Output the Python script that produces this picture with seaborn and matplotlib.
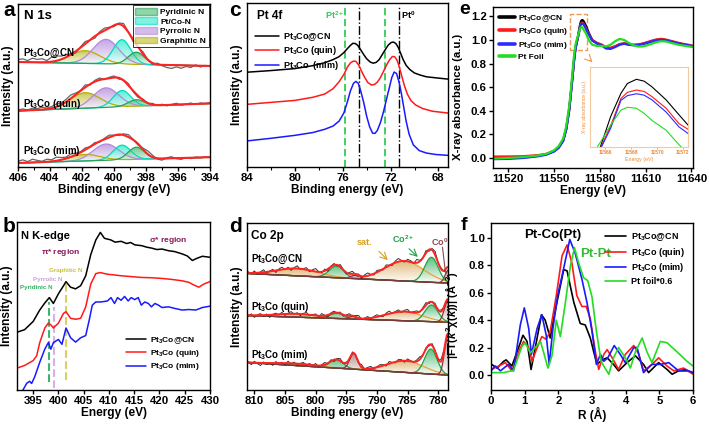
import numpy as np
import pandas as pd
import matplotlib
matplotlib.use("Agg")
import matplotlib.pyplot as plt
import seaborn as sns
from matplotlib.colors import LinearSegmentedColormap
from matplotlib.patches import Patch, Rectangle
from matplotlib.ticker import MultipleLocator

# ======================= DATA =======================
# ---- (a) N 1s XPS ----
a_samples = ["Pt$_3$Co@CN", "Pt$_3$Co (quin)", "Pt$_3$Co (mim)"]
a_components = ["Pyridinic N", "Pt/Co-N", "Pyrrolic N", "Graphitic N"]
a_centers = [398.6, 399.5, 400.5, 401.8]
a_fwhm = [1.2, 1.3, 1.9, 2.2]
a_heights_cn = [7.5, 15.0, 15.0, 7.8]
a_heights_quin = [4.0, 10.0, 12.0, 9.5]
a_heights_mim = [7.5, 9.0, 10.0, 4.0]
a_base_406 = [64.4, 34.5, 2.5]
a_base_394 = [62.0, 39.0, 6.0]
a_label_y = [70.0, 38.7, 9.8]
a_res_cn = [1.5, 2.0, 1.0, 2.5, 1.8, 2.2, 1.0, 2.8, 3.0, 2.0,
            1.5, 0.5, -1.0, 0.5, 1.5, 0.0, -1.2, 0.8, 1.5, 0.5,
            -0.8, 0.6, 1.8, 0.2, -1.5, -0.5, 1.2, 0.0, -1.0, 0.8,
            -0.5, -1.5, -2.0, -1.0, -1.8, -0.6, -1.2, 0.5, -0.8, 0.3,
            -0.5]
a_res_quin = [0.5, 1.0, 0.3, 1.2, 0.8, 1.5, 0.6, 1.0, 1.8, 0.9,
              1.6, 2.2, 1.0, 0.2, 1.5, -0.5, 0.8, 1.2, -0.3, 0.6,
              1.0, -0.8, 0.4, 1.1, -0.6, -1.0, 0.5, -0.4, 0.8, -0.2,
              0.6, -0.5, 0.3, 0.9, -0.4, 0.2, 0.7, -0.3, 0.5, 0.1,
              0.4]
a_res_mim = [1.0, 1.8, 0.6, 2.0, 1.2, 0.5, 1.6, 1.0, 2.2, 1.4,
             0.8, 1.8, 1.0, 0.5, 1.2, 0.2, 0.9, -0.5, 0.6, 1.4,
             0.3, -0.6, 0.8, 1.5, 0.2, -0.8, 0.6, 2.0, 1.2, -0.4,
             -1.0, 0.5, 1.0, -0.3, -0.8, 0.2, -0.5, 0.4, -0.2, 0.3,
             -0.1]

# ---- (b) N K-edge NEXAFS (energy eV, intensity) ----
b_cn = [(391.8, 34.4), (393.3, 35.9), (395.0, 40.8), (396.3, 47.6), (397.3, 51.8),
        (398.2, 55.0), (399.0, 51.5), (400.0, 57.3), (401.0, 62.0), (401.5, 64.5),
        (402.4, 61.2), (403.4, 60.2), (404.4, 62.1), (405.4, 68.0), (406.4, 80.6),
        (407.4, 89.3), (408.3, 93.8), (409.1, 90.3), (410.4, 89.3), (411.2, 88.0),
        (412.4, 88.5), (413.5, 87.2), (414.3, 87.8), (415.1, 86.4), (416.5, 85.9),
        (417.5, 85.0), (418.4, 84.5), (419.5, 83.6), (420.5, 83.9), (421.8, 82.9),
        (423.0, 82.4), (424.5, 81.0), (425.5, 79.8), (426.5, 77.1), (427.5, 78.5),
        (428.5, 79.6), (430.0, 79.0)]
b_quin = [(391.8, 13.0), (393.3, 14.6), (395.0, 17.5), (395.7, 20.4), (396.3, 28.2),
          (397.3, 36.9), (398.0, 39.8), (398.5, 38.8), (399.0, 36.9), (400.0, 39.8),
          (401.0, 45.6), (401.5, 46.6), (402.4, 42.7), (403.4, 42.1), (404.4, 42.7),
          (405.4, 49.5), (406.4, 63.1), (407.4, 69.3), (408.3, 69.9), (409.7, 68.9),
          (411.0, 68.5), (412.4, 68.0), (414.0, 67.6), (416.4, 67.0), (418.5, 66.8),
          (420.5, 66.4), (422.5, 65.8), (424.5, 65.0), (425.8, 64.1), (426.8, 62.5),
          (427.8, 61.2), (428.8, 63.1), (430.0, 64.5)]
b_mim = [(392.8, -1.0), (393.7, 3.9), (394.3, 5.2), (394.7, 3.9), (395.3, 7.8),
         (396.3, 16.5), (397.3, 24.3), (398.0, 28.2), (398.5, 24.3), (399.0, 28.2),
         (400.0, 30.1), (400.7, 27.2), (401.5, 36.9), (402.4, 31.1), (403.4, 28.5),
         (404.4, 31.1), (405.4, 32.4), (406.1, 41.7), (406.7, 50.5), (407.4, 52.4),
         (408.4, 52.4), (409.7, 53.0), (410.4, 55.0), (411.1, 51.5), (411.7, 55.0),
         (412.4, 53.4), (413.1, 55.7), (413.8, 53.0), (414.4, 55.0), (415.1, 53.8),
         (415.8, 55.0), (416.4, 50.5), (417.1, 52.4), (417.8, 51.5), (418.4, 49.5),
         (419.1, 51.5), (419.8, 50.5), (420.5, 49.1), (421.8, 49.5), (423.1, 48.5),
         (424.5, 47.6), (425.8, 47.9), (427.2, 47.6), (428.5, 49.1), (430.0, 49.9)]
b_marks = ["Pyridinic N", "Pyrrolic N", "Graphitic N"]
b_mark_e = [398.2, 399.2, 401.5]
b_mark_top = [52.4, 49.5, 63.0]
b_mark_bottom = [4.9, 1.0, 5.8]

# ---- (c) Pt 4f XPS (binding energy eV, intensity) ----
c_cn = [(84.0, 57.8), (82.0, 58.8), (80.0, 60.0), (78.5, 61.8), (77.5, 63.6), (76.8, 65.5),
        (76.3, 67.3), (75.9, 69.8), (75.6, 72.3), (75.35, 74.2), (75.15, 75.4), (74.95, 75.3),
        (74.75, 74.2), (74.5, 71.5), (74.25, 68.6), (74.0, 66.0), (73.7, 64.0), (73.45, 63.3),
        (73.2, 63.8), (72.95, 65.5), (72.7, 68.5), (72.45, 71.5), (72.2, 74.3), (71.95, 75.9),
        (71.75, 76.2), (71.55, 75.2), (71.35, 72.8), (71.15, 69.2), (70.95, 65.5), (70.7, 62.0),
        (70.4, 59.5), (70.0, 57.3), (69.5, 56.0), (69.0, 55.0), (68.0, 54.2), (67.2, 53.6)]
c_quin = [(84.0, 38.2), (82.0, 39.4), (80.0, 40.6), (78.5, 42.5), (77.5, 44.5), (76.8, 47.8),
          (76.3, 52.0), (75.9, 56.5), (75.6, 61.0), (75.35, 63.5), (75.1, 64.6), (74.9, 64.4),
          (74.65, 62.0), (74.4, 58.0), (74.15, 54.5), (73.9, 51.5), (73.6, 50.0), (73.35, 50.3),
          (73.1, 51.8), (72.85, 54.5), (72.6, 58.2), (72.35, 62.0), (72.1, 65.2), (71.85, 67.4),
          (71.65, 67.2), (71.45, 65.0), (71.25, 60.5), (71.05, 55.0), (70.85, 49.8), (70.6, 44.5),
          (70.3, 40.5), (69.9, 37.8), (69.3, 35.6), (68.5, 34.0), (67.2, 32.9)]
c_mim = [(84.0, 15.9), (82.0, 17.5), (80.0, 19.3), (78.5, 21.0), (77.5, 23.0), (76.8, 25.0),
         (76.3, 28.0), (75.9, 33.0), (75.6, 40.0), (75.35, 46.5), (75.1, 51.0), (74.9, 52.2),
         (74.7, 51.0), (74.5, 46.5), (74.25, 39.5), (74.0, 31.0), (73.75, 24.5), (73.5, 20.6),
         (73.3, 20.5), (73.1, 22.4), (72.85, 27.0), (72.6, 33.5), (72.35, 41.0), (72.1, 48.5),
         (71.9, 54.5), (71.7, 57.9), (71.5, 57.0), (71.3, 52.0), (71.1, 45.0), (70.9, 36.5),
         (70.7, 28.0), (70.45, 20.0), (70.1, 13.5), (69.6, 10.0), (69.0, 8.5), (68.2, 7.6),
         (67.2, 7.1)]
c_pt2_lines = [75.78, 72.5]
c_pt0_lines = [74.6, 71.33]

# ---- (d) Co 2p XPS ----
d_kinds = ["sat", "Co2+", "Co0", "sat", "Co2+", "Co0"]
d_centers_cn = [803.0, 796.6, 793.6, 785.5, 781.1, 778.3]
d_centers_quin = [803.0, 796.5, 794.0, 785.5, 781.1, 778.4]
d_centers_mim = [803.0, 796.6, 793.8, 785.3, 781.2, 778.4]
d_heights_cn = [4.4, 7.0, 2.0, 12.0, 15.0, 8.0]
d_heights_quin = [2.0, 3.2, 1.6, 5.5, 10.0, 13.0]
d_heights_mim = [1.2, 5.0, 9.3, 7.0, 15.0, 24.0]
d_fwhm_cn = [8.0, 2.8, 1.6, 7.5, 2.6, 1.3]
d_fwhm_quin = [8.0, 2.6, 1.5, 7.0, 2.5, 1.4]
d_fwhm_mim = [8.0, 2.6, 1.5, 7.0, 2.4, 1.3]
d_base_811 = [69.8, 44.6, 16.5]
d_base_778 = [64.0, 40.6, 8.9]
d_label_y = [78.2, 49.5, 20.8]
d_res_cn = [0.8, -0.6, 1.2, -1.0, 0.4, 1.5, -0.8, 0.2, 1.0, -1.2, 0.6,
            1.4, -0.3, 0.9, -1.1, 0.5, 1.6, -0.4, 0.3, 1.2, -0.9, 0.7,
            1.8, 0.2, -0.6, 1.1, -1.3, 0.4, 0.9, -0.7, 1.3, 0.1, -1.0,
            0.8, 1.5, -0.2, 0.6, -1.4, 0.9, 1.7, 0.3, -0.8, 1.1, 0.5,
            -0.6, 1.4, 0.2, -0.9, 1.0, 1.9, 0.4, -0.7, 1.2, 0.8, -0.5,
            2.0, 0.6, -0.3, 1.5, -1.0, 0.9, 2.2, -0.4, 0.7, -0.8, 0.3]
d_res_quin = [-0.5, 0.9, -1.2, 0.3, 1.0, -0.8, 0.6, -1.5, 0.2, 0.8, -0.4,
              1.1, -0.9, 0.4, 1.3, -0.2, 0.7, -1.0, 0.5, 1.2, -0.6, 0.3,
              0.9, -0.7, 1.4, 0.2, -1.1, 0.6, 1.0, -0.3, 0.8, -0.9, 0.4,
              1.2, -0.5, 0.7, 1.5, -0.4, 0.2, 1.1, -0.8, 0.6, 1.3, 0.0,
              -0.7, 0.9, 1.6, -0.2, 0.5, 1.2, -0.6, 0.8, 1.4, -0.3, 0.6,
              1.0, -0.5, 0.7, 1.5, -0.8, 0.4, 1.1, -0.3, 0.9, -0.6, 0.2]
d_res_mim = [0.4, -1.3, 0.8, -0.5, -1.6, 0.6, -0.9, 0.2, -1.4, 0.9, -0.3,
             0.5, -1.0, 1.2, -0.4, 0.8, -1.2, 0.3, 1.0, -0.6, 0.7, -0.2,
             1.1, -0.8, 0.4, 1.3, -0.5, 0.9, -1.1, 0.6, 1.4, -0.3, 0.5,
             -0.9, 1.0, 0.2, -0.7, 1.5, -0.4, 0.8, 1.2, -0.6, 0.3, 1.1,
             0.6, -0.8, 1.3, 0.2, -0.5, 1.0, 0.7, -0.9, 1.2, 0.4, -0.3,
             0.9, 1.6, -0.4, 0.8, -0.7, 1.1, 0.5, -0.8, 1.4, 0.3, -0.5]

# ---- (e) Pt L3-edge XANES ----
e_energy = [11510, 11520, 11530, 11540, 11545, 11550, 11553, 11556, 11558, 11560,
            11561, 11562, 11563, 11564, 11565, 11565.6, 11566.4, 11567.2, 11567.7, 11568.4,
            11569.0, 11569.6, 11570.7, 11571.7, 11572.4, 11573.5, 11575, 11578, 11581, 11584,
            11587, 11590, 11593, 11596, 11599, 11602, 11605, 11608, 11611, 11614,
            11617, 11620, 11623, 11626, 11629, 11632, 11635, 11638, 11641]
e_cn = [0.000, 0.002, 0.008, 0.020, 0.032, 0.058, 0.09, 0.15, 0.25, 0.42,
        0.55, 0.68, 0.82, 0.93, 0.99, 1.025, 1.09, 1.14, 1.161, 1.170,
        1.166, 1.154, 1.126, 1.094, 1.072, 1.04, 1.0, 0.975, 0.96, 0.935,
        0.93, 0.945, 0.965, 0.97, 0.962, 0.958, 0.96, 0.968, 0.978, 0.99,
        1.0, 1.005, 1.0, 0.99, 0.98, 0.97, 0.962, 0.955, 0.948]
e_quin = [0.012, 0.013, 0.015, 0.025, 0.035, 0.06, 0.09, 0.15, 0.25, 0.42,
          0.55, 0.68, 0.82, 0.93, 0.99, 1.022, 1.07, 1.129, 1.142, 1.147,
          1.144, 1.133, 1.108, 1.075, 1.063, 1.035, 1.0, 0.975, 0.962, 0.94,
          0.935, 0.948, 0.966, 0.972, 0.965, 0.96, 0.962, 0.97, 0.982, 0.995,
          1.005, 1.01, 1.005, 0.995, 0.985, 0.975, 0.967, 0.96, 0.952]
e_mim = [-0.01, -0.008, 0.0, 0.015, 0.028, 0.055, 0.085, 0.145, 0.24, 0.41,
         0.54, 0.67, 0.81, 0.92, 0.985, 1.02, 1.065, 1.125, 1.135, 1.139,
         1.136, 1.126, 1.10, 1.068, 1.054, 1.03, 0.995, 0.97, 0.955, 0.928,
         0.925, 0.94, 0.96, 0.968, 0.96, 0.955, 0.958, 0.965, 0.975, 0.988,
         0.998, 1.003, 0.998, 0.99, 0.98, 0.97, 0.962, 0.955, 0.947]
e_foil = [-0.005, 0.0, 0.008, 0.022, 0.035, 0.065, 0.1, 0.165, 0.27, 0.45,
          0.58, 0.72, 0.86, 0.96, 1.01, 1.035, 1.072, 1.104, 1.11, 1.108,
          1.097, 1.082, 1.061, 1.03, 1.01, 0.985, 0.96, 0.95, 0.95, 0.945,
          0.96, 0.99, 1.01, 1.0, 0.975, 0.955, 0.945, 0.945, 0.955, 0.968,
          0.982, 0.99, 0.988, 0.978, 0.968, 0.958, 0.952, 0.946, 0.94]
e_inset_ticks = [11566, 11568, 11570, 11572]

# ---- (f) FT-EXAFS (R in Angstrom, magnitude) ----
f_cn = [(0.0, 0.08), (0.18, 0.05), (0.38, 0.10), (0.45, 0.11), (0.62, 0.065), (0.82, 0.2),
        (0.95, 0.29), (1.07, 0.245), (1.19, 0.04), (1.35, 0.245), (1.5, 0.44), (1.61, 0.40),
        (1.76, 0.27), (1.86, 0.41), (1.98, 0.556), (2.16, 0.77), (2.26, 0.76), (2.46, 0.53),
        (2.65, 0.376), (2.8, 0.365), (2.95, 0.27), (3.05, 0.17), (3.15, 0.077), (3.3, 0.11),
        (3.45, 0.125), (3.64, 0.077), (3.79, 0.03), (4.04, 0.09), (4.29, 0.14), (4.53, 0.077),
        (4.68, 0.017), (4.98, 0.09), (5.23, 0.04), (5.38, 0.005), (5.57, 0.03), (5.82, 0.03),
        (6.0, 0.017)]
f_quin = [(0.0, 0.04), (0.23, 0.065), (0.43, 0.09), (0.62, 0.03), (0.82, 0.17), (0.97, 0.245),
          (1.12, 0.2), (1.22, 0.1), (1.37, 0.2), (1.51, 0.28), (1.64, 0.26), (1.76, 0.32),
          (1.94, 0.58), (2.11, 0.87), (2.26, 0.95), (2.4, 0.82), (2.55, 0.58), (2.7, 0.5),
          (2.83, 0.5), (2.95, 0.41), (3.1, 0.17), (3.2, 0.04), (3.35, 0.15), (3.45, 0.185),
          (3.6, 0.125), (3.79, 0.04), (3.99, 0.15), (4.24, 0.215), (4.39, 0.15), (4.53, 0.03),
          (4.78, 0.077), (4.98, 0.125), (5.23, 0.065), (5.43, 0.03), (5.72, 0.05), (6.0, 0.005)]
f_mim = [(0.0, 0.03), (0.13, 0.065), (0.28, 0.03), (0.52, 0.077), (0.67, 0.03), (0.87, 0.365),
         (0.99, 0.49), (1.12, 0.34), (1.2, 0.15), (1.37, 0.34), (1.51, 0.44), (1.64, 0.29),
         (1.73, 0.077), (1.84, 0.34), (1.98, 0.58), (2.16, 0.78), (2.34, 0.99), (2.5, 0.89),
         (2.7, 0.7), (2.85, 0.53), (3.0, 0.32), (3.13, 0.077), (3.25, 0.15), (3.35, 0.1),
         (3.47, 0.125), (3.66, 0.215), (3.84, 0.15), (3.99, 0.09), (4.24, 0.2), (4.34, 0.2),
         (4.53, 0.017), (4.78, 0.077), (5.03, 0.077), (5.28, 0.09), (5.57, 0.03), (5.77, 0.04),
         (6.0, 0.017)]
f_foil = [(0.0, 0.017), (0.38, 0.017), (0.67, 0.034), (0.92, 0.21), (1.02, 0.235), (1.17, 0.16),
          (1.35, 0.21), (1.47, 0.245), (1.58, 0.15), (1.69, 0.05), (1.81, 0.14), (1.94, 0.4),
          (2.06, 0.28), (2.21, 0.53), (2.36, 0.8), (2.48, 0.93), (2.6, 0.82), (2.75, 0.71),
          (2.87, 0.69), (3.0, 0.57), (3.13, 0.32), (3.27, 0.1), (3.35, 0.065), (3.5, 0.005),
          (3.64, 0.125), (3.79, 0.2), (3.99, 0.125), (4.14, 0.05), (4.29, 0.17), (4.49, 0.27),
          (4.63, 0.17), (4.78, 0.09), (5.03, 0.245), (5.23, 0.235), (5.52, 0.17), (5.82, 0.1),
          (6.0, 0.065)]

legend_samples = ["Pt$_3$Co@CN", "Pt$_3$Co (quin)", "Pt$_3$Co (mim)"]

# ======================= STYLE =======================
sns.set_theme(style="ticks")
plt.rcParams.update({
    "font.family": ["Liberation Sans", "DejaVu Sans"],
    "font.weight": "bold",
    "axes.labelweight": "bold",
    "mathtext.fontset": "custom",
    "mathtext.rm": "Liberation Sans:bold",
    "mathtext.it": "Liberation Sans:bold:italic",
    "mathtext.bf": "Liberation Sans:bold",
    "mathtext.default": "rm",
    "axes.linewidth": 1.0,
    "axes.edgecolor": "black",
    "axes.labelcolor": "black",
    "text.color": "black",
    "xtick.color": "black",
    "ytick.color": "black",
    "xtick.direction": "out",
    "ytick.direction": "out",
    "xtick.major.size": 3.0,
    "ytick.major.size": 3.0,
    "xtick.major.width": 1.0,
    "ytick.major.width": 1.0,
    "xtick.minor.size": 1.8,
    "xtick.minor.width": 0.8,
    "xtick.major.pad": 1.2,
    "ytick.major.pad": 1.5,
    "xtick.labelsize": 8.2,
    "ytick.labelsize": 8.2,
    "axes.labelsize": 8.6,
    "legend.frameon": False,
})

W, H = 709, 425
fig = plt.figure(figsize=(W / 100, H / 100), dpi=100)


def add_ax(l, t, r, b):
    return fig.add_axes([l / W, 1 - b / H, (r - l) / W, (b - t) / H])


def line(ax, x, y, color, lw, label=None, **kw):
    sns.lineplot(x=np.asarray(x, float), y=np.asarray(y, float), ax=ax, color=color,
                 linewidth=lw, label=label, estimator=None, sort=False, **kw)


def gauss(x, c, h, w):
    return h * np.exp(-4 * np.log(2) * ((x - c) / w) ** 2)


def grad_fill(ax, x, y0, y1, color, alpha=0.8, z=1):
    coll = ax.fill_between(x, y0, y1, facecolor="none", edgecolor="none")
    path = coll.get_paths()[0]
    cmap = LinearSegmentedColormap.from_list("g", ["white", color])
    im = ax.imshow(np.linspace(0, 1, 64).reshape(-1, 1),
                   extent=[float(np.min(x)), float(np.max(x)), float(np.min(y0)), float(np.max(y1))],
                   origin="lower", aspect="auto", cmap=cmap, alpha=alpha, zorder=z)
    im.set_clip_path(path, transform=ax.transData)


def pts(p):
    a = np.array(p, float)
    return a[:, 0], a[:, 1]


axA = add_ax(18, 4, 210, 167)
axB = add_ax(17, 222, 210, 390)
axC = add_ax(247, 3, 448, 167)
axD = add_ax(247, 223, 448, 390)
axE = add_ax(493, 7, 693, 168)
axF = add_ax(491, 223, 693, 390)

# ======================= (a) =======================
a_edge = ["#2f9e55", "#00dcbc", "#b48ad8", "#b2b000"]
a_fill = ["#46b870", "#2ceccc", "#b78ee0", "#bdbb2a"]
xa = np.linspace(394, 406, 400)
xa_raw = np.arange(406.0, 393.95, -0.3)
a_heights = [a_heights_cn, a_heights_quin, a_heights_mim]
a_res = [a_res_cn, a_res_quin, a_res_mim]
for s in range(3):
    base = a_base_406[s] + (a_base_394[s] - a_base_406[s]) * (406 - xa) / 12.0
    base_r = a_base_406[s] + (a_base_394[s] - a_base_406[s]) * (406 - xa_raw) / 12.0
    env = base.copy()
    env_r = base_r.copy()
    for k in [3, 2, 1, 0]:
        comp = gauss(xa, a_centers[k], a_heights[s][k], a_fwhm[k])
        grad_fill(axA, xa, base, base + comp, a_fill[k], alpha=0.8)
        line(axA, xa, base + comp, a_edge[k], 0.9)
        env = env + comp
        env_r = env_r + gauss(xa_raw, a_centers[k], a_heights[s][k], a_fwhm[k])
    line(axA, xa_raw, env_r + np.array(a_res[s]), "#666666", 0.9)
    line(axA, xa, env, "#ff2424", 1.5)
    axA.text(405.7, a_label_y[s], a_samples[s], fontsize=7, ha="left", va="center", zorder=6)
axA.text(405.6, 92.5, "N 1s", fontsize=9.5, ha="left", va="center")
handles = [Patch(facecolor=a_fill[k], edgecolor=a_edge[k], alpha=0.6, label=a_components[k]) for k in range(4)]
legA = axA.legend(handles=handles, loc="upper right", fontsize=6, frameon=True, fancybox=False,
                  edgecolor="black", borderpad=0.3, labelspacing=0.15, handlelength=2.6,
                  handleheight=0.9, handletextpad=0.4, borderaxespad=0.15)
legA.get_frame().set_linewidth(0.7)
axA.set_xlim(406, 394)
axA.set_ylim(0, 100)
axA.set_yticks([])
axA.xaxis.set_major_locator(MultipleLocator(2))
axA.xaxis.set_minor_locator(MultipleLocator(1))
axA.set_xlabel("Binding energy (eV)", labelpad=1)
axA.set_ylabel("Intensity (a.u.)", labelpad=3)

# ======================= (b) =======================
for data, col, lab in [(b_cn, "black", legend_samples[0]), (b_quin, "#ff1a1a", legend_samples[1]),
                       (b_mim, "#1a1aff", legend_samples[2])]:
    x, y = pts(data)
    line(axB, x, y, col, 1.1, label=lab)
b_cols = ["#3cb371", "#d6b0e6", "#d8d060"]
for e0, t0, b0, c0 in zip(b_mark_e, b_mark_top, b_mark_bottom, b_cols):
    axB.plot([e0, e0], [b0, t0], ls="--", color=c0, lw=1.5, zorder=1)
axB.text(392.3, 60.8, b_marks[0], color="#30b060", fontsize=4.5, ha="left", va="center")
axB.text(395.0, 66.0, b_marks[1], color="#c8a0e0", fontsize=4.5, ha="left", va="center")
axB.text(398.2, 71.3, b_marks[2], color="#c8c040", fontsize=4.5, ha="left", va="center")
axB.text(400.5, 82.0, r"$\pi$* region", color="#8b1a5a", fontsize=6, ha="center", va="center")
axB.text(421.7, 88.7, r"$\sigma$* region", color="#8b1a5a", fontsize=6, ha="center", va="center")
axB.text(392.6, 91.8, "N K-edge", fontsize=8, ha="left", va="center")
axB.legend(loc="lower right", bbox_to_anchor=(0.99, 0.06), fontsize=6, handlelength=2.4,
           labelspacing=0.25, handletextpad=0.5)
axB.set_xlim(391.8, 430)
axB.set_ylim(0, 100)
axB.set_yticks([])
axB.xaxis.set_major_locator(MultipleLocator(5))
axB.set_xlabel("Energy (eV)", labelpad=1)
axB.set_ylabel("Intensity (a.u.)", labelpad=3)

# ======================= (c) =======================
for data, col, lab in [(c_cn, "black", legend_samples[0]), (c_quin, "#ff1a1a", legend_samples[1]),
                       (c_mim, "#1a1aff", "Pt$_3$Co  (mim)")]:
    x, y = pts(data)
    line(axC, x, y, col, 1.1, label=lab)
for v in c_pt2_lines:
    axC.plot([v, v], [0, 98.5], ls=(0, (4, 2)), color="#33cc55", lw=1.3, zorder=1)
for v in c_pt0_lines:
    axC.plot([v, v], [0, 98.5], ls="-.", color="black", lw=1.0, zorder=1)
axC.text(76.7, 92.5, "Pt$^{2+}$", color="#33cc55", fontsize=6.5, ha="center", va="center")
axC.text(70.5, 92.5, "Pt$^{0}$", color="black", fontsize=6.5, ha="center", va="center")
axC.text(83.2, 92.0, "Pt 4f", fontsize=8.5, ha="left", va="center")
axC.legend(loc="upper left", bbox_to_anchor=(0.0, 0.88), fontsize=6.5, handlelength=2.6,
           labelspacing=0.2, handletextpad=0.5)
axC.set_xlim(84, 67.2)
axC.set_ylim(0, 100)
axC.set_yticks([])
axC.xaxis.set_major_locator(MultipleLocator(4))
axC.xaxis.set_minor_locator(MultipleLocator(2))
axC.set_xlabel("Binding energy (eV)", labelpad=1)
axC.set_ylabel("Intensity (a.u.)", labelpad=3)

# ======================= (d) =======================
d_edge = {"sat": "#e8a33a", "Co2+": "#22a04a", "Co0": "#7a3a3a"}
d_fill = {"sat": "#d9a858", "Co2+": "#38b060", "Co0": "#a07878"}
xd = np.linspace(778.4, 811.2, 500)
xd_raw = np.arange(811.0, 778.45, -0.5)
d_centers = [d_centers_cn, d_centers_quin, d_centers_mim]
d_heights = [d_heights_cn, d_heights_quin, d_heights_mim]
d_fwhm = [d_fwhm_cn, d_fwhm_quin, d_fwhm_mim]
d_res = [d_res_cn, d_res_quin, d_res_mim]
for s in range(3):
    base = d_base_811[s] + (d_base_778[s] - d_base_811[s]) * (811.2 - xd) / (811.2 - 778.4)
    base_r = d_base_811[s] + (d_base_778[s] - d_base_811[s]) * (811.2 - xd_raw) / (811.2 - 778.4)
    env = base.copy()
    env_r = base_r.copy()
    for k in range(6):
        kind = d_kinds[k]
        comp = gauss(xd, d_centers[s][k], d_heights[s][k], d_fwhm[s][k])
        grad_fill(axD, xd, base, base + comp, d_fill[kind], alpha=0.8)
        line(axD, xd, base + comp, d_edge[kind], 0.9)
        env = env + comp
        env_r = env_r + gauss(xd_raw, d_centers[s][k], d_heights[s][k], d_fwhm[s][k])
    line(axD, xd, base, "#7a3a3a", 1.0)
    line(axD, xd_raw, env_r + np.array(d_res[s]), "#333333", 0.7)
    line(axD, xd, env, "#ff2424", 1.4)
    axD.text(810.6, d_label_y[s], legend_samples[s], fontsize=7, ha="left", va="center", zorder=6)
axD.text(810.6, 92.0, "Co 2p", fontsize=8.5, ha="left", va="center")
axD.text(792.0, 88.5, "sat.", color="#d4a020", fontsize=6.5, ha="center", va="center")
axD.annotate("", xy=(787.9, 76.6), xytext=(790.0, 84.2),
             arrowprops=dict(arrowstyle="->", color="#d4a020", lw=0.8))
axD.text(785.8, 90.5, "Co$^{2+}$", color="#22a04a", fontsize=6.5, ha="center", va="center")
axD.annotate("", xy=(783.0, 78.6), xytext=(785.1, 85.7),
             arrowprops=dict(arrowstyle="->", color="#22a04a", lw=0.8))
axD.text(779.8, 88.5, "Co$^{0}$", color="#8b4a4a", fontsize=6.5, ha="center", va="center")
axD.plot([779.3, 778.8], [85.5, 70.0], color="#8b4a4a", lw=0.8)
axD.set_xlim(811.2, 778.4)
axD.set_ylim(0, 100)
axD.set_yticks([])
axD.xaxis.set_major_locator(MultipleLocator(5))
axD.set_xlabel("Binding energy (eV)", labelpad=1)
axD.set_ylabel("Intensity (a.u.)", labelpad=3)

# ======================= (e) =======================
e_series = [(e_cn, "black", legend_samples[0]), (e_quin, "#ff1a1a", legend_samples[1]),
            (e_mim, "#2a2aff", legend_samples[2]), (e_foil, "#22dd22", "Pt Foil")]
for yv, col, lab in e_series:
    line(axE, e_energy, yv, col, 1.6, label=lab)
legE = axE.legend(loc="upper left", bbox_to_anchor=(0.0, 1.0), fontsize=6.0, handlelength=1.9,
                  labelspacing=0.3, handletextpad=0.4, borderaxespad=0.3)
for l in legE.get_lines():
    l.set_linewidth(2.6)
axE.add_patch(Rectangle((11560.4, 0.913), 10.9, 0.304, fill=False, ls="--", ec="#ee9955", lw=1.0))
axE.annotate("", xy=(11576.5, 0.795), xytext=(11572.6, 0.845),
             arrowprops=dict(arrowstyle="->", color="#ee9955", lw=0.8))
axE.set_xlim(11510, 11641)
axE.set_ylim(-0.085, 1.28)
axE.set_xticks([11520, 11550, 11580, 11610, 11640])
axE.set_yticks([0.0, 0.2, 0.4, 0.6, 0.8, 1.0, 1.2])
axE.yaxis.set_major_formatter(matplotlib.ticker.FormatStrFormatter("%.1f"))
axE.set_xlabel("Energy (eV)", labelpad=1)
axE.set_ylabel("X-ray absorbance (a.u.)", fontsize=8.2)
axE.yaxis.set_label_coords(-0.15, 0.44)

axIn = add_ax(590, 66.7, 688, 146.7)
for yv, col, lab in e_series:
    line(axIn, e_energy, yv, col, 0.8)
axIn.set_xlim(11564.8, 11572.4)
axIn.set_ylim(1.0256, 1.197)
axIn.set_yticks([])
axIn.set_xticks(e_inset_ticks)
axIn.tick_params(axis="x", labelsize=3.6, colors="#ee8833", length=1.5, width=0.5, pad=1)
for sp in axIn.spines.values():
    sp.set_color("#f5c8a0")
    sp.set_linewidth(0.8)
axIn.set_xlabel("Energy (eV)", fontsize=3.8, color="#ee8833", labelpad=1, fontweight="normal")
axIn.set_ylabel("X-ray absorbance (a.u.)", fontsize=3.5, color="#ee8833", labelpad=2, fontweight="normal")

# ======================= (f) =======================
f_series = [(f_cn, "black", legend_samples[0]), (f_quin, "#ff1a1a", legend_samples[1]),
            (f_mim, "#1a1aff", legend_samples[2]), (f_foil, "#22dd22", "Pt foil*0.6")]
for data, col, lab in f_series:
    x, y = pts(data)
    line(axF, x, y, col, 1.2, label=lab)
axF.legend(loc="upper right", bbox_to_anchor=(1.0, 1.0), fontsize=6.5, handlelength=2.4,
           labelspacing=0.3, handletextpad=0.5)
axF.text(1.84, 1.02, "Pt-Co(Pt)", fontsize=9.5, ha="center", va="center")
axF.text(3.1, 0.88, "Pt-Pt", fontsize=9.5, color="#33bb33", ha="center", va="center")
axF.set_xlim(0, 6)
axF.set_ylim(-0.11, 1.11)
axF.set_xticks(range(0, 7))
axF.set_yticks([0.0, 0.2, 0.4, 0.6, 0.8, 1.0])
axF.yaxis.set_major_formatter(matplotlib.ticker.FormatStrFormatter("%.1f"))
axF.set_xlabel("R (Å)", labelpad=1)
axF.set_ylabel(r"|FT($\mathit{k}^2\chi(\mathit{k})$)| (Å$^{-3}$)", fontsize=8.0)
axF.yaxis.set_label_coords(-0.155, 0.45)

# ======================= panel letters =======================
for lab, (px, py, fs) in {"a": (3, 10, 15), "b": (3, 226, 15), "c": (229, 10, 15),
                          "d": (229, 227, 15), "e": (459, 10, 14), "f": (461, 226, 14)}.items():
    fig.text(px / W, 1 - py / H, lab, fontsize=fs, fontweight="bold", ha="left", va="center")

fig.savefig("out.png", dpi=100)
